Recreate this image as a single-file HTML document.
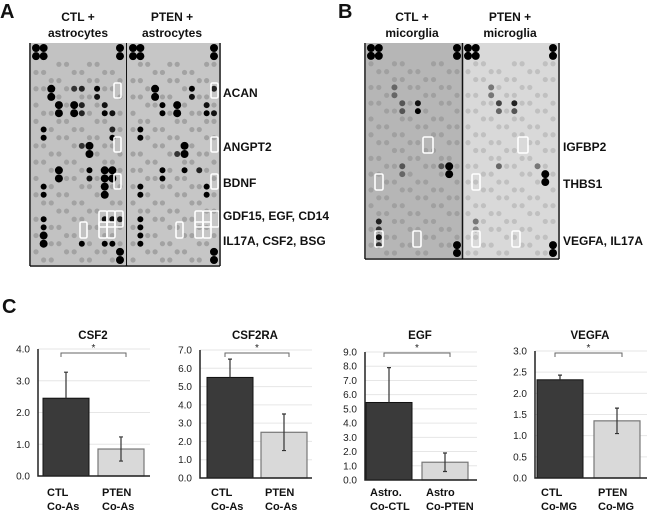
<!DOCTYPE html>
<html><head><meta charset="utf-8">
<style>
body{margin:0;background:#fff;}
svg{display:block;font-family:"Liberation Sans",Arial,sans-serif;}
.lab{font-weight:bold;font-size:12px;fill:#111;}
.pl{font-weight:bold;font-size:20px;fill:#111;}
.tk{font-size:10px;fill:#222;}
.xl{font-weight:bold;font-size:11px;fill:#111;}
.tt{font-weight:bold;font-size:11.5px;fill:#111;}
</style></head>
<body>
<svg id="fig" width="650" height="514" viewBox="0 0 650 514">
<text class="pl" x="0" y="18">A</text>
<text class="pl" x="338" y="18">B</text>
<text class="pl" x="2" y="313">C</text>
<g>
<text class="lab" x="78" y="21" text-anchor="middle">CTL +</text>
<text class="lab" x="78" y="37" text-anchor="middle">astrocytes</text>
<text class="lab" x="172" y="21" text-anchor="middle">PTEN +</text>
<text class="lab" x="172" y="37" text-anchor="middle">astrocytes</text>
</g>
<g>
<text class="lab" x="412" y="21" text-anchor="middle">CTL +</text>
<text class="lab" x="412" y="37" text-anchor="middle">micorglia</text>
<text class="lab" x="510" y="21" text-anchor="middle">PTEN +</text>
<text class="lab" x="510" y="37" text-anchor="middle">microglia</text>
</g>
<g id="blots"></g>
<g>
<text class="lab" x="223" y="97">ACAN</text>
<text class="lab" x="223" y="151">ANGPT2</text>
<text class="lab" x="223" y="187">BDNF</text>
<text class="lab" x="223" y="220">GDF15, EGF, CD14</text>
<text class="lab" x="223" y="245">IL17A, CSF2, BSG</text>
</g>
<g>
<text class="lab" x="563" y="151">IGFBP2</text>
<text class="lab" x="563" y="188">THBS1</text>
<text class="lab" x="563" y="245">VEGFA, IL17A</text>
</g>
<g id="charts"></g>
</svg>
<script>
const NS="http://www.w3.org/2000/svg";
function mk(t,a,p){const e=document.createElementNS(NS,t);for(const k in a)e.setAttribute(k,a[k]);p.appendChild(e);return e;}
const blots=document.getElementById('blots');
const blotDefs=[
 {x0:31,x1:125,h:222,bg:"#c2c2c2",name:"blot-ctl-astrocytes",dark:[[0,0,4,"#000"],[1,0,4,"#000"],[0,1,4,"#000"],[1,1,4,"#000"],[11,0,4,"#000"],[11,1,4,"#000"],[11,25,4,"#000"],[11,26,4,"#000"],
  [2,5,4,"#000"],[2,6,4,"#000"],[6,5,3,"#222"],[5,5,3,"#333"],[8,5,3,"#000"],[8,6,3,"#111"],[3,7,4,"#000"],[3,8,4,"#000"],[5,7,4,"#000"],[5,8,4,"#000"],[6,7,3,"#222"],[6,8,3,"#222"],[9,7,3,"#111"],[9,8,3,"#000"],[10,8,3,"#111"],
  [1,10,3,"#000"],[1,11,3,"#000"],[10,10,3,"#222"],[10,11,3,"#000"],[6,12,3,"#333"],[7,12,4,"#000"],[7,13,4,"#000"],[3,15,4,"#000"],[3,16,4,"#000"],[7,15,3,"#000"],[7,16,3,"#111"],[9,15,4,"#000"],[10,15,4,"#000"],[9,16,4,"#000"],[10,16,4,"#000"],
  [1,17,3,"#000"],[1,18,3,"#000"],[9,17,4,"#000"],[9,18,4,"#000"],[1,21,3,"#000"],[1,22,3,"#000"],[9,21,3,"#111"],[10,21,3,"#111"],[11,21,3,"#222"],[1,23,4,"#000"],[1,24,4,"#000"],[6,24,3,"#000"],[9,24,3,"#000"],[10,24,3,"#000"]],
  boxes:[[114,83,7,15],[114,137,7,15],[114,174,7,15],[99,211,8,16],[107,211,8,16],[115,211,8,16],[80,222,7,16],[99,222,8,16],[107,222,8,16]]},
 {x0:128,x1:219,h:222,bg:"#c6c6c6",name:"blot-pten-astrocytes",dark:[[0,0,4,"#000"],[1,0,4,"#000"],[0,1,4,"#000"],[1,1,4,"#000"],[11,0,4,"#000"],[11,1,4,"#000"],[11,25,4,"#000"],[11,26,4,"#000"],
  [3,5,4,"#000"],[3,6,4,"#000"],[8,5,3,"#000"],[8,6,3,"#111"],[11,5,3,"#222"],[4,7,3,"#000"],[4,8,3,"#000"],[6,7,4,"#000"],[6,8,4,"#000"],[10,7,3,"#111"],[10,8,3,"#000"],[11,8,3,"#111"],
  [1,10,3,"#000"],[1,11,3,"#000"],[7,12,4,"#000"],[7,13,4,"#000"],[6,13,3,"#333"],[4,15,3,"#000"],[4,16,3,"#000"],[7,15,3,"#000"],[9,15,3,"#222"],[10,17,3,"#000"],[10,18,3,"#000"],
  [1,17,3,"#000"],[1,18,3,"#000"],[1,21,3,"#000"],[1,22,3,"#000"],[1,23,3,"#000"],[1,24,3,"#000"]],
  boxes:[[211,83,7,15],[211,137,7,15],[211,174,7,15],[195,211,8,16],[203,211,8,16],[211,211,8,16],[176,222,7,16],[195,222,8,16],[203,222,8,16]]},
 {x0:366,x1:462,h:215,bg:"#b6b6b6",name:"blot-ctl-microglia",dark:[[0,0,4,"#000"],[1,0,4,"#000"],[0,1,4,"#000"],[1,1,4,"#000"],[11,0,4,"#000"],[11,1,4,"#000"],[11,25,4,"#000"],[11,26,4,"#000"],
  [3,5,3,"#666"],[3,6,3,"#666"],[4,7,3,"#555"],[4,8,3,"#555"],[6,7,3,"#111"],[6,8,3,"#000"],[10,15,4,"#000"],[10,16,4,"#000"],[4,15,3,"#555"],[4,16,3,"#666"],[9,15,3,"#555"],
  [1,22,3,"#222"],[1,23,3,"#333"],[1,24,3,"#111"],[1,25,3,"#333"]],
  boxes:[[423,137,10,16],[375,174,8,16],[375,231,8,16],[413,231,8,16]]},
 {x0:463,x1:558,h:215,bg:"#d9d9d9",name:"blot-pten-microglia",dark:[[0,0,4,"#000"],[1,0,4,"#000"],[0,1,4,"#000"],[1,1,4,"#000"],[11,0,4,"#000"],[11,1,4,"#000"],[11,25,4,"#000"],[11,26,4,"#000"],
  [3,5,3,"#777"],[3,6,3,"#777"],[4,7,3,"#444"],[4,8,3,"#666"],[6,7,3,"#222"],[6,8,3,"#555"],[10,16,4,"#000"],[10,17,4,"#000"],[4,15,3,"#666"],[9,15,3,"#777"],
  [1,22,3,"#777"],[1,23,3,"#888"]],
  boxes:[[518,137,10,16],[472,174,8,16],[472,231,8,16],[512,231,8,16]]}
];
blotDefs.forEach((b,bi)=>{
  const g=mk('g',{},blots);
  
  
  mk('rect',{x:b.x0,y:43,width:b.x1-b.x0,height:b.h,fill:b.bg},g);
  const dx=(b.x1-b.x0-10)/11, y0=48, dy=(b.h-10)/26;
  const faint=bi<2?"#a2a2a2":(bi==2?"#a0a0a0":"#c0c0c0");
  for(let c=0;c<12;c++)for(let r=2;r<27;r++){
    const h=(c*7+r*13+bi*5)%9;
    if(h<4) mk('circle',{cx:b.x0+5+c*dx,cy:y0+r*dy,r:2.6,fill:faint},g);
  }
  b.dark.forEach(d=>mk('circle',{cx:b.x0+5+d[0]*dx,cy:y0+d[1]*dy,r:d[2],fill:d[3]},g));
  b.boxes.forEach(q=>mk('rect',{x:q[0],y:q[1],width:q[2],height:q[3],rx:1.5,fill:"none",stroke:"#fff","stroke-width":1.6},g));
});
[[30,43,30,266],[126.5,43,126.5,266],[220,43,220,266],[30,266,220,266],[365,43,365,259],[462.5,43,462.5,259],[559,43,559,259],[365,259,559,259]].forEach(l=>{
  const e=mk('line',{x1:l[0],y1:l[1],x2:l[2],y2:l[3],stroke:"#111","stroke-width":1.5},blots);
  
  
});

// ---- charts data ----
const chartTitles=["CSF2","CSF2RA","EGF","VEGFA"];
const chartMax=[4,7,9,3];
const tickStep=[1,1,1,0.5];
const ctlValues=[2.45,5.5,5.45,2.32];
const ctlErrors=[0.82,1.0,2.45,0.11];
const ptenValues=[0.85,2.5,1.25,1.35];
const ptenErrors=[0.38,1.0,0.65,0.3];
const xLabels1=[["CTL","PTEN"],["CTL","PTEN"],["Astro.","Astro"],["CTL","PTEN"]];
const xLabels2=[["Co-As","Co-As"],["Co-As","Co-As"],["Co-CTL","Co-PTEN"],["Co-MG","Co-MG"]];
const layout=[{ax:38,b1:43,b2:98,top:349,bot:476},{ax:200,b1:207,b2:261,top:350,bot:478},{ax:365,b1:366,b2:422,top:352,bot:480},{ax:535,b1:537,b2:594,top:351,bot:478}];
const charts=document.getElementById('charts');
chartTitles.forEach((t,i)=>{
  const L=layout[i],bw=46;
  const g=mk('g',{},charts);
  
  
  const y=v=>L.bot-(v/chartMax[i])*(L.bot-L.top);
  for(let v=0;v<=chartMax[i]+1e-9;v+=tickStep[i]){
    if(v>0){const gl=mk('line',{x1:L.ax,x2:L.ax+112,y1:y(v),y2:y(v),stroke:"#e6e6e6","stroke-width":1},g);
    }
    const tx=mk('text',{class:'tk',x:L.ax-8,y:y(v)+3.5,'text-anchor':'end'},g);
    
    tx.textContent=v.toFixed(1);
  }
  const ti=mk('text',{class:'tt',x:L.ax+55,y:339,'text-anchor':'middle'},g);
  
  ti.textContent=t;
  const b1=mk('rect',{x:L.b1,y:y(ctlValues[i]),width:bw,height:L.bot-y(ctlValues[i]),fill:"#3a3a3a",stroke:"#111","stroke-width":1},g);
  
  const b2=mk('rect',{x:L.b2,y:y(ptenValues[i]),width:bw,height:L.bot-y(ptenValues[i]),fill:"#d9d9d9",stroke:"#777","stroke-width":1.2},g);
  
  const c1=L.b1+bw/2,c2=L.b2+bw/2;
  const e1=mk('path',{d:`M${c1} ${y(ctlValues[i])}V${y(ctlValues[i]+ctlErrors[i])}M${c1-2} ${y(ctlValues[i]+ctlErrors[i])}h4`,stroke:"#333","stroke-width":1.2,fill:"none"},g);
  
  const lo=y(ptenValues[i]-ptenErrors[i]),hi=y(ptenValues[i]+ptenErrors[i]);
  const e2=mk('path',{d:`M${c2} ${lo}V${hi}M${c2-2} ${lo}h4M${c2-2} ${hi}h4`,stroke:"#333","stroke-width":1.2,fill:"none"},g);
  
  const ax=mk('path',{d:`M${L.ax} ${L.top}V${L.bot}H${L.ax+112}`,stroke:"#222","stroke-width":1.5,fill:"none"},g);
  
  const br=mk('path',{d:`M${c1-5} 357V353H${c2+5}V357`,stroke:"#666","stroke-width":1,fill:"none"},g);
  
  const st=mk('text',{x:(c1+c2)/2,y:351,'text-anchor':'middle','font-size':'10px',fill:'#222'},g);
  
  st.textContent="*";
  [[L.b1+4,0],[L.b2+4,1]].forEach(p=>{
    const a=mk('text',{class:'xl',x:p[0],y:496},g);
    
    a.textContent=xLabels1[i][p[1]];
    const b=mk('text',{class:'xl',x:p[0],y:510},g);
    
    b.textContent=xLabels2[i][p[1]];
  });
});
</script>
</body></html>
